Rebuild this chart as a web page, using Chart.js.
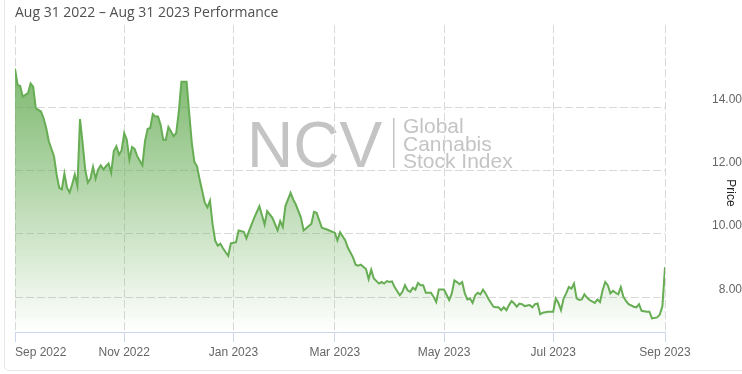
<!DOCTYPE html>
<html>
<head>
<meta charset="utf-8">
<script src="https://cdn.jsdelivr.net/npm/chart.js@4.4.1/dist/chart.umd.min.js"></script>
<style>
  html, body { margin: 0; padding: 0; background: #fff; overflow: hidden; }
  .frame { position: absolute; left: 4px; top: -30px; width: 800px; height: 399px; border: 1px solid #e6e6e6; border-radius: 5px; }
  .wrap { position: absolute; left: 0; top: 0; width: 742px; height: 374px; }
</style>
</head>
<body>
<div class="frame"></div>
<div class="wrap"><canvas id="perfChart"></canvas></div>
<script>
// NCV Global Cannabis Stock Index, Aug 31 2022 - Aug 31 2023
// x = trading-day number counted from Aug 31 2022 (ordinal axis, no weekends)
const tradingDay = [
  0, 1, 2, 3, 5, 6, 7, 8, 10, 11, 12, 13, 15, 16, 17, 18, 19, 20, 21, 22, 23, 24,
  25, 26, 27, 28, 29, 30, 31, 32, 33, 34, 35, 36, 37, 38, 39, 40, 41, 42, 43, 44,
  45, 46, 47, 49, 50, 51, 52, 53, 54, 55, 56, 57, 58, 59, 60, 61, 62, 63, 64, 66,
  67, 68, 69, 70, 71, 72, 73, 74, 75, 76, 77, 78, 79, 80, 81, 82, 83, 85, 86, 88,
  89, 90, 92, 94, 96, 97, 99, 101, 102, 103, 104, 106, 107, 108, 110, 111, 112, 114,
  115, 116, 118, 120, 122, 123, 124, 125, 127, 128, 130, 131, 132, 133, 135, 136, 137, 138,
  140, 141, 142, 143, 144, 145, 146, 148, 149, 150, 151, 152, 153, 154, 155, 156, 157, 158,
  160, 161, 162, 163, 165, 167, 168, 169, 170, 171, 172, 173, 174, 175, 176, 177, 178, 179,
  180, 181, 182, 184, 185, 186, 187, 188, 189, 190, 191, 192, 193, 194, 195, 196, 198, 199,
  200, 201, 202, 203, 205, 206, 207, 208, 209, 210, 211, 212, 213, 214, 215, 216, 217, 218,
  219, 220, 221, 223, 224, 225, 226, 227, 228, 229, 230, 231, 232, 233, 234, 235, 236, 238,
  239, 240, 241, 243, 244, 245, 247, 248, 249, 250
];
const price = [
  15.23, 14.71, 14.68, 14.34, 14.45, 14.76, 14.66, 13.97, 13.87, 13.66, 13.35, 12.93, 12.46, 11.88, 11.46, 11.41, 11.91, 11.46, 11.31, 11.57, 11.88, 11.52,
  13.63, 12.88, 12.04, 11.62, 11.75, 12.12, 11.75, 12.04, 12.17, 12.04, 12.14, 12.23, 11.93, 12.62, 12.77, 12.51, 12.64, 13.19, 12.98, 12.35,
  12.75, 12.69, 12.46, 12.17, 12.93, 13.32, 13.35, 13.79, 13.71, 13.71, 13.45, 12.98, 12.98, 13.38, 13.24, 13.09, 13.19, 13.87, 14.81, 14.81,
  13.82, 12.88, 12.27, 12.14, 11.73, 11.36, 10.99, 10.84, 11.05, 10.30, 9.79, 9.63, 9.69, 9.55, 9.42, 9.31, 9.70, 9.74, 10.11, 10.07,
  9.86, 10.09, 10.51, 10.88, 10.30, 10.72, 10.51, 10.11, 10.41, 10.22, 10.88, 11.30, 11.09, 10.93, 10.51, 10.11, 10.18, 10.32,
  10.70, 10.67, 10.20, 10.14, 10.07, 10.04, 9.80, 10.05, 9.80, 9.57, 9.26, 9.03, 9.00, 9.03, 8.89, 8.57, 8.87, 8.59,
  8.43, 8.48, 8.43, 8.51, 8.48, 8.50, 8.32, 8.06, 8.17, 8.38, 8.22, 8.17, 8.30, 8.24, 8.45, 8.38, 8.38, 8.14,
  8.14, 8.01, 7.85, 8.24, 8.24, 7.91, 8.12, 8.53, 8.48, 8.41, 8.48, 8.12, 7.93, 7.96, 7.82, 8.06, 8.14, 8.09,
  8.24, 8.12, 7.96, 7.70, 7.68, 7.68, 7.59, 7.68, 7.59, 7.75, 7.88, 7.80, 7.70, 7.80, 7.78, 7.72, 7.75, 7.68,
  7.78, 7.80, 7.46, 7.51, 7.54, 7.54, 7.54, 7.96, 7.82, 7.59, 7.96, 8.12, 8.32, 8.27, 8.43, 7.96, 7.91, 7.93,
  8.09, 7.99, 7.91, 7.82, 7.93, 7.85, 8.22, 8.48, 8.38, 8.12, 8.20, 8.14, 8.09, 8.32, 8.01, 7.88, 7.78, 7.70,
  7.68, 7.78, 7.57, 7.54, 7.54, 7.33, 7.36, 7.45, 7.72, 8.95
];

// first trading day of every second month
const monthTicks = [0, 42, 84, 123, 165, 207, 250];
const monthLabels = ["Sep 2022", "Nov 2022", "Jan 2023", "Mar 2023", "May 2023", "Jul 2023", "Sep 2023"];
const priceTicks = [8, 10, 12, 14];

const AXIS_FONT = '"Liberation Sans", Arial, sans-serif';

// watermark (under the grid), x labels (first one left aligned like highstock) and axis title
const overlay = {
  id: "overlay",
  beforeDraw: function (chart) {
    const ctx = chart.ctx;
    ctx.save();
    ctx.fillStyle = "#c4c4c4";
    ctx.textAlign = "left";
    ctx.textBaseline = "alphabetic";
    ctx.font = "64px " + AXIS_FONT;
    ctx.fillText("NCV", 247, 167);
    ctx.fillRect(393, 118, 1.5, 50);
    ctx.font = "21px " + AXIS_FONT;
    ctx.fillText("Global", 403, 133);
    ctx.fillText("Cannabis", 403, 150.5);
    ctx.fillText("Stock Index", 403, 168);
    ctx.restore();
  },
  afterDraw: function (chart) {
    const ctx = chart.ctx;
    const xScale = chart.scales.x;
    ctx.save();
    ctx.font = "12px " + AXIS_FONT;
    ctx.fillStyle = "#666666";
    ctx.textBaseline = "alphabetic";
    monthTicks.forEach((v, i) => {
      ctx.textAlign = i === 0 ? "left" : "center";
      ctx.fillText(monthLabels[i], xScale.getPixelForValue(v), 356);
    });
    ctx.fillStyle = "#222222";
    ctx.translate(730, 193);
    ctx.rotate(Math.PI / 2);
    ctx.textAlign = "center";
    ctx.textBaseline = "middle";
    ctx.fillText("Price", 0, 0);
    ctx.restore();
  },
};

const ctx = document.getElementById("perfChart");

new Chart(ctx, {
  type: "line",
  data: {
    datasets: [
      {
        label: "NCV",
        data: tradingDay.map((d, i) => ({ x: d, y: price[i] })),
        borderColor: "rgb(102, 173, 84)",
        borderWidth: 2,
        backgroundColor: function (context) {
          const area = context.chart.chartArea;
          if (!area) return "rgba(102, 173, 84, 0.4)";
          const g = context.chart.ctx.createLinearGradient(0, area.top, 0, area.bottom);
          g.addColorStop(0, "rgba(98, 170, 80, 0.95)");
          g.addColorStop(0.5, "rgba(98, 170, 80, 0.5)");
          g.addColorStop(1, "rgba(98, 170, 80, 0)");
          return g;
        },
        fill: "start",
        tension: 0,
        pointRadius: 0,
        pointHoverRadius: 0,
      },
    ],
  },
  options: {
    responsive: true,
    maintainAspectRatio: false,
    animation: false,
    layout: {
      padding: { left: 15, right: 0, top: 0, bottom: 0 },
    },
    plugins: {
      legend: { display: false },
      tooltip: { enabled: false },
      title: {
        display: true,
        text: "Aug 31 2022 \u2013 Aug 31 2023 Performance",
        align: "start",
        color: "#505050",
        font: { family: '"Open Sans", sans-serif', size: 14, weight: "normal" },
        padding: { top: 2, bottom: 4.2 },
      },
    },
    scales: {
      x: {
        type: "linear",
        min: 0,
        max: 250,
        afterBuildTicks: function (scale) {
          scale.ticks = monthTicks.map((v) => ({ value: v }));
        },
        afterFit: function (scale) {
          scale.height = 42;
        },
        ticks: { display: false },
        grid: {
          color: "#d9d9d9",
          drawTicks: true,
          tickLength: 10,
          tickColor: "#ccd6eb",
          tickBorderDash: [],
        },
        border: { display: true, color: "#ccd6eb", width: 1, dash: [8, 3] },
      },
      y: {
        position: "right",
        min: 6.9,
        max: 16.6,
        afterBuildTicks: function (scale) {
          scale.ticks = priceTicks.map((v) => ({ value: v }));
        },
        afterFit: function (scale) {
          scale.width = 77;
        },
        ticks: {
          crossAlign: "far",
          padding: 18,
          labelOffset: -8,
          color: "#666666",
          font: { family: AXIS_FONT, size: 12 },
          callback: function (value) {
            return value.toFixed(2);
          },
        },
        grid: { color: "#d9d9d9", drawTicks: false },
        border: { display: false, dash: [8, 3] },
      },
    },
  },
  plugins: [overlay],
});
</script>
</body>
</html>
